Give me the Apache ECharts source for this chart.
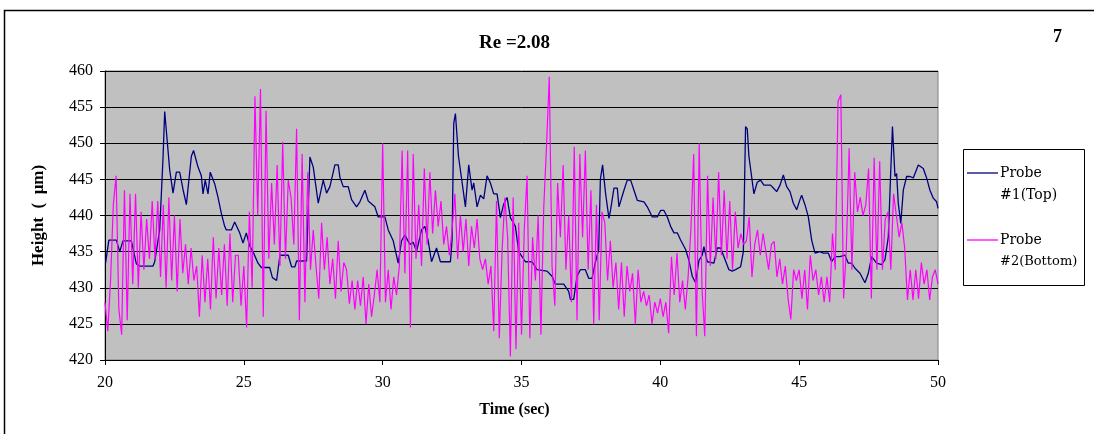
<!DOCTYPE html>
<html><head><meta charset="utf-8">
<script src="https://cdn.jsdelivr.net/npm/echarts/dist/echarts.min.js"></script>
<style>html,body{margin:0;padding:0;background:#fff}#c{width:1094px;height:434px}</style>
</head><body><div id="c"></div><script>
const titleText = 'Re =2.08';
const pageNumber = '7';
const seriesNames = ['Probe #1(Top)', 'Probe #2(Bottom)'];
const xTicks = {min: 20, max: 50, interval: 5};
const yTicks = {min: 420, max: 460, interval: 5};

// Probe #1 (Top): time (s) and height (um)
const probe1Time = [
20.02,20.14,20.41,20.53,20.65,20.95,21.13,21.25,21.73,21.79,21.97,22.09,22.15,22.27,22.33,22.45,22.51,22.57,22.69,22.81,22.93,
23.11,23.19,23.35,23.47,23.53,23.61,23.71,23.79,23.95,24.07,24.19,24.31,24.37,24.55,24.67,24.85,24.97,25.09,25.21,25.33,25.51,
25.63,25.93,26.03,26.18,26.3,26.6,26.72,26.84,26.9,27.26,27.32,27.38,27.5,27.68,27.86,27.98,28.1,28.28,28.4,28.46,28.58,28.76,
28.88,29.06,29.18,29.36,29.48,29.72,29.84,30.08,30.2,30.38,30.56,30.68,30.8,30.98,31.1,31.22,31.4,31.52,31.64,31.76,31.94,
32.08,32.44,32.5,32.56,32.62,32.73,32.86,32.98,33.1,33.22,33.28,33.4,33.52,33.64,33.76,33.88,34.0,34.12,34.24,34.36,34.48,
34.6,34.78,34.9,35.02,35.14,35.38,35.56,35.92,36.1,36.22,36.52,36.7,36.76,36.88,37.0,37.12,37.3,37.42,37.54,37.66,37.78,
37.84,37.92,38.03,38.15,38.21,38.33,38.45,38.51,38.57,38.69,38.81,38.93,39.05,39.17,39.41,39.53,39.71,39.89,40.01,40.13,
40.25,40.37,40.49,40.61,40.73,40.91,41.03,41.15,41.27,41.39,41.51,41.57,41.69,41.93,42.05,42.17,42.29,42.47,42.59,42.71,
42.89,42.99,43.07,43.13,43.19,43.25,43.37,43.49,43.61,43.73,43.97,44.07,44.19,44.31,44.43,44.55,44.67,44.79,44.91,45.03,
45.09,45.21,45.33,45.45,45.57,45.75,45.87,46.05,46.17,46.29,46.47,46.65,46.77,46.89,47.01,47.19,47.37,47.49,47.61,47.79,
47.97,48.09,48.21,48.3,48.36,48.45,48.51,48.57,48.66,48.75,48.87,48.99,49.11,49.29,49.47,49.59,49.71,49.83,49.95,50.0
];
const probe1Height = [
433.4,436.6,436.6,435,436.5,436.5,433.3,433,433,433.6,438,448,454.4,449,446.3,443.1,443.1,446,446,443.6,441.5,
448.2,449,446.7,445.5,443,444.9,443,446,444.4,442.5,440.3,438.5,438,438,439.1,437.6,436.2,437.6,435.8,435,433.4,
432.8,432.8,431.4,431,434.5,434.5,432.9,432.9,433.7,433.7,433.5,448.1,446.7,441.7,444.9,443.1,444,447,447,445.3,444,444,
442.2,441.2,441.9,443.5,442,441.2,439.8,439.8,438,436.5,433.4,436.5,437.3,436,436.3,435,438,438.5,436.5,433.6,435.5,
433.6,433.6,436.6,452.8,454.1,448.2,444.6,441.2,447,443.5,444.5,441.2,442.8,442.3,445.5,444.5,443,443,439.7,441.6,442.5,
439.7,438.5,435,434.3,433.6,433.6,432.5,432.3,431.6,430.5,430.5,429.5,428.4,428.4,431.6,432.5,432.5,431.3,431.3,433.5,435.3,
445,447,443,439.6,440.8,443.8,443.8,441.2,441,443.5,444.9,444.9,443.5,442.1,441.9,441.2,439.8,439.8,440.7,440.7,
439.8,438.5,437.6,437.6,436.6,435.3,433.8,431.6,430.7,433.8,434.5,435.7,433.6,433.4,435.5,435.5,434.3,432.5,432.3,432.5,
432.9,435,452.3,452,448.2,448.2,443,444.6,444.9,444.2,444.2,443.8,443.3,444.2,445.6,444,443.3,441.7,440.8,442.2,
442.8,441.5,439.8,436.6,434.8,435,434.8,434.8,433.6,434.3,434.3,434.5,433.4,433.4,432.7,432,430.7,432,434.3,433.4,
433.2,433.9,437,446.3,452.3,445.4,445.8,441.7,438.9,443.5,445.4,445.4,445.2,447,446.5,445.2,443.5,442.4,441.9,441
];

const probe2Start = 20;
const probe2Step = 0.1;
const probe2Height = [
428,424,431,441.5,445.5,427,423.5,443.5,425.5,443,
430.5,443,430,440.5,432.5,439.5,434,442,434,442,
431.5,441.5,430,442.5,431,440,429.5,439.5,432,436,
430.5,435.5,431,433,426,434.5,428,434,427,437,
428.5,435.5,429,436,427.5,437.5,428,434.5,434.5,427.5,
433,424.5,440.5,430,456.5,440,457.5,426,454.5,434,
444.5,436,447,433,450.2,434,444.9,442.5,436,452,
425.5,448.5,428,446,432.5,438,433,428.5,439,432.5,
437,430.5,434,428.5,436.5,429.5,433.5,432.5,427.8,431,
427,431,427.5,431.5,425,430.5,426,429,432.5,428,
450,428,432.5,427,431.5,429,433,449,432,449,
424.5,448.5,434,441.5,433,446.5,436,446,437.5,443.5,
438.5,442,436,438.5,434.5,438,443,434,440,435,
439.5,433,438.5,435.5,439.5,434,432.5,434,430.5,433,
424,442,423,435,442.5,437,420.5,442.5,421.5,439,
423.5,438,445.5,423,437,431,440,423.5,441,449.5,
459.2,433,427.5,444.5,437,447,432.5,440,428,449.5,
425.5,448.5,437,449,432.5,443.5,425,441.5,425.5,440.5,
439,431,436.5,430,433.5,427,433.5,426,433,429.5,
432,425,432.5,428,429.5,427.5,429,425,428,426.5,
428.5,426,428,423.7,434.3,429,434.8,428,431,427,
431.5,438,448.5,423.3,450,430,423.3,445.5,433,442.5,
434,446,434.5,443.5,434,442,432.5,440.5,435.5,437.5,
436,436.5,439.8,431.5,436,438,434.5,437.5,435,432.5,
436,436.4,431.5,434,430.5,433,428.5,425.6,432.5,431,
432.5,428.5,432.5,427,434.5,431,432.5,429,431.5,428,
431.5,428,437.5,432.5,455.8,456.7,428.5,435.5,449.3,432.5,
446,440.5,442.5,440,441.5,446.5,428.5,448,432.5,447.5,
432.5,439.5,440.5,432.5,443,440,437,439,435.5,428.3,
432.5,428.3,432.5,428.5,433.5,430.5,432.5,428.3,431.5,432.5,
430.5
];

const navy = '#000080';
const magenta = '#FF00FF';
const serif = 'Liberation Serif';

const probe1Data = probe1Time.map((t, i) => [t, probe1Height[i]]);
const probe2Data = probe2Height.map((v, i) => [+(probe2Start + i * probe2Step).toFixed(2), v]);

const chart = echarts.init(document.getElementById('c'), null, {renderer: 'canvas'});
chart.setOption({
  animation: false,
  backgroundColor: '#fff',
  title: {
    text: titleText, left: 474, top: 29,
    textStyle: {fontFamily: serif, fontWeight: 'bold', fontSize: 19, color: '#000'}
  },
  grid: {
    left: 105, right: 156, top: 71, bottom: 74, show: true,
    backgroundColor: '#C0C0C0', borderColor: '#808080', borderWidth: 1
  },
  xAxis: {
    type: 'value', min: xTicks.min, max: xTicks.max, interval: xTicks.interval,
    name: 'Time (sec)', nameLocation: 'middle', nameGap: 42,
    nameTextStyle: {fontFamily: serif, fontWeight: 'bold', fontSize: 16, color: '#000', padding: [0, 14, 0, 0]},
    axisLine: {show: true, onZero: false, lineStyle: {color: '#000', width: 1}},
    axisTick: {show: true, length: 5, lineStyle: {color: '#000'}},
    axisLabel: {fontFamily: serif, fontSize: 16, color: '#000', margin: 15},
    splitLine: {show: false}
  },
  yAxis: {
    type: 'value', min: yTicks.min, max: yTicks.max, interval: yTicks.interval,
    name: 'Height  (  μm)', nameLocation: 'middle', nameGap: 58, nameRotate: 90,
    nameTextStyle: {fontFamily: serif, fontWeight: 'bold', fontSize: 17, color: '#000'},
    axisLine: {show: true, lineStyle: {color: '#000', width: 1}},
    axisTick: {show: true, length: 5, lineStyle: {color: '#000'}},
    axisLabel: {fontFamily: serif, fontSize: 16, color: '#000', margin: 12},
    splitLine: {show: true, lineStyle: {color: '#000', width: 1}}
  },
  series: [
    {name: seriesNames[0], type: 'line', data: probe1Data, showSymbol: false,
     lineStyle: {color: navy, width: 1.3}, itemStyle: {color: navy}, z: 2},
    {name: seriesNames[1], type: 'line', data: probe2Data, showSymbol: false,
     lineStyle: {color: magenta, width: 1.2}, itemStyle: {color: magenta}, z: 3}
  ],
  graphic: [
    {type: 'rect', shape: {x: 4.5, y: 10.5, width: 1200, height: 600},
     style: {fill: 'none', stroke: '#000', lineWidth: 1.5}, silent: true},
    {type: 'text', left: 1053, top: 28,
     style: {text: pageNumber, font: 'bold 18px "Liberation Serif"', fill: '#000'}},
    {type: 'rect', shape: {x: 963.5, y: 149.5, width: 121, height: 136},
     style: {fill: '#fff', stroke: '#000', lineWidth: 1}},
    {type: 'line', shape: {x1: 967, y1: 173, x2: 998, y2: 173}, style: {stroke: navy, lineWidth: 1.3}},
    {type: 'text', x: 1000, y: 173, style: {text: 'Probe', font: '14px "DejaVu Serif"', fill: '#000', textVerticalAlign: 'middle'}},
    {type: 'text', x: 1000, y: 195, style: {text: '#1(Top)', font: '14px "DejaVu Serif"', fill: '#000', textVerticalAlign: 'middle'}},
    {type: 'line', shape: {x1: 967, y1: 240, x2: 998, y2: 240}, style: {stroke: magenta, lineWidth: 1.3}},
    {type: 'text', x: 1000, y: 240, style: {text: 'Probe', font: '14px "DejaVu Serif"', fill: '#000', textVerticalAlign: 'middle'}},
    {type: 'text', x: 1000, y: 262, style: {text: '#2(Bottom)', font: '13px "DejaVu Serif"', fill: '#000', textVerticalAlign: 'middle'}}
  ]
});
</script></body></html>
